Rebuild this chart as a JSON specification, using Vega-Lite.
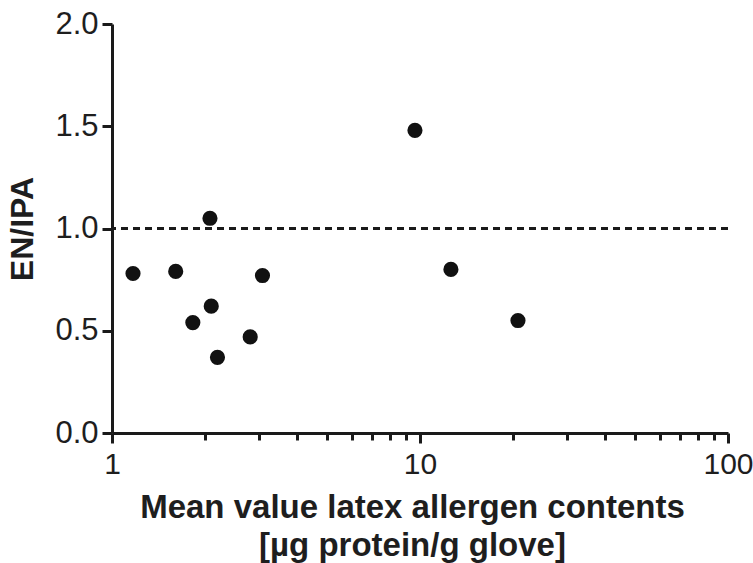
{
  "$schema": "https://vega.github.io/schema/vega-lite/v6.json",
  "autosize": "none",
  "width": 616,
  "height": 409,
  "padding": {"left": 112, "top": 24, "right": 25, "bottom": 130},
  "background": "white",
  "config": {
    "view": {"stroke": null},
    "axis": {
      "grid": false,
      "domainColor": "#1a1a1a",
      "domainWidth": 3,
      "tickColor": "#1a1a1a",
      "tickWidth": 3,
      "labelFont": "Liberation Sans",
      "labelColor": "#1e1e1e",
      "titleFont": "Liberation Sans",
      "titleFontWeight": "bold",
      "titleColor": "#1e1e1e"
    }
  },
  "data": {
    "values": [
      {"content": 1.17, "ratio": 0.78},
      {"content": 1.61, "ratio": 0.79},
      {"content": 2.08, "ratio": 1.05},
      {"content": 3.08, "ratio": 0.77},
      {"content": 2.10, "ratio": 0.62},
      {"content": 1.83, "ratio": 0.54},
      {"content": 2.81, "ratio": 0.47},
      {"content": 2.20, "ratio": 0.37},
      {"content": 9.63, "ratio": 1.48},
      {"content": 12.6, "ratio": 0.80},
      {"content": 20.8, "ratio": 0.55}
    ]
  },
  "layer": [
    {
      "mark": {"type": "point", "filled": true, "shape": "circle", "size": 230, "color": "#111111", "opacity": 1},
      "encoding": {
        "x": {
          "field": "content",
          "type": "quantitative",
          "scale": {"type": "log", "domain": [1, 100], "nice": false},
          "axis": {
            "values": [1, 2, 3, 4, 5, 6, 7, 8, 9, 10, 20, 30, 40, 50, 60, 70, 80, 90, 100],
            "labelExpr": "(datum.value == 1 || datum.value == 10 || datum.value == 100) ? datum.value : ''",
            "labelOverlap": false,
            "labelFlush": false,
            "tickSize": {"condition": {"test": "datum.value == 1 || datum.value == 10 || datum.value == 100", "value": 10}, "value": 7},
            "labelPadding": 6,
            "labelFontSize": 30,
            "title": ["Mean value latex allergen contents", "[µg protein/g glove]"],
            "titleFontSize": 33,
            "titleLineHeight": 38,
            "titlePadding": 12,
            "titleX": 300
          }
        },
        "y": {
          "field": "ratio",
          "type": "quantitative",
          "scale": {"domain": [0, 2], "nice": false},
          "axis": {
            "values": [0, 0.5, 1, 1.5, 2],
            "format": ".1f",
            "tickSize": 10,
            "labelPadding": 4,
            "labelFontSize": 31,
            "labelFontWeight": "normal",
            "title": "EN/IPA",
            "titleFontSize": 32,
            "titlePadding": 15
          }
        }
      }
    },
    {
      "mark": {"type": "rule", "strokeDash": [7, 5], "strokeWidth": 3, "color": "#1a1a1a"},
      "encoding": {"y": {"datum": 1, "type": "quantitative"}}
    }
  ]
}
